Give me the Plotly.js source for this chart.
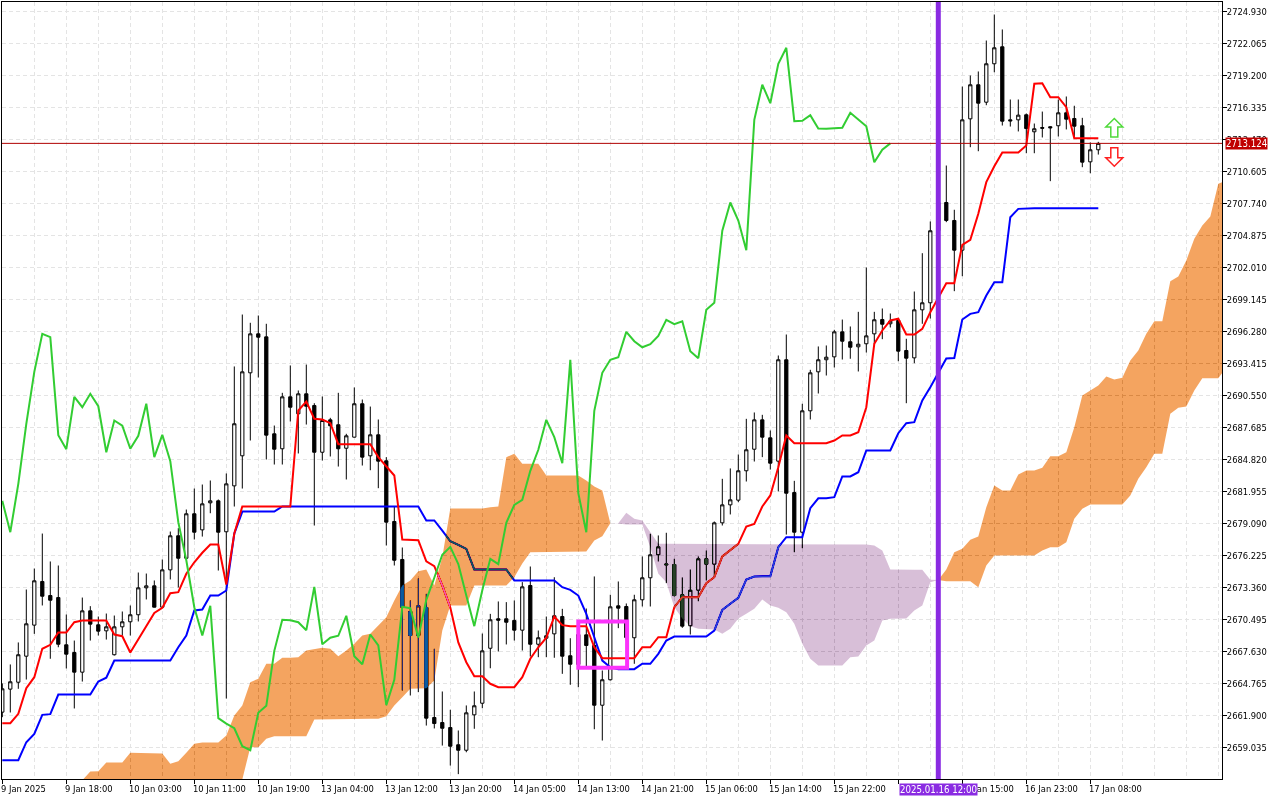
<!DOCTYPE html>
<html>
<head>
<meta charset="utf-8">
<script src="https://cdn.plot.ly/plotly-3.0.1.min.js"></script>
<style>html,body{margin:0;padding:0;background:#fff}#chart{width:1280px;height:800px}</style>
</head>
<body>
<div id="chart"></div>
<script>
const opens=[2662.20,2664.26,2664.88,2667.21,2669.99,2673.90,2672.64,2672.46,2668.23,2667.54,2665.78,2671.27,2670.02,2669.48,2667.34,2669.84,2670.29,2670.92,2673.33,2673.51,2671.60,2674.94,2677.99,2675.98,2679.96,2678.52,2680.94,2681.12,2678.35,2682.46,2685.15,2692.58,2696.07,2695.80,2687.12,2685.78,2690.43,2688.91,2690.70,2689.65,2685.47,2688.37,2687.93,2685.83,2686.82,2689.81,2685.15,2687.03,2684.70,2679.27,2675.87,2671.21,2669.06,2671.57,2661.72,2661.27,2660.82,2659.28,2658.79,2661.96,2663.00,2667.92,2670.56,2670.56,2670.41,2669.54,2673.54,2668.28,2668.82,2669.21,2670.76,2667.25,2666.47,2669.12,2668.17,2662.82,2665.10,2671.72,2671.66,2668.86,2672.26,2674.23,2676.29,2675.37,2675.42,2672.71,2669.93,2673.12,2675.93,2675.45,2679.15,2680.76,2681.18,2683.81,2685.74,2688.37,2686.76,2684.67,2693.75,2681.86,2678.31,2689.18,2692.67,2693.75,2694.01,2696.25,2695.36,2694.91,2695.18,2696.07,2697.35,2696.97,2697.27,2694.58,2693.92,2698.22,2698.85,2705.32,2707.83,2706.22,2703.56,2715.32,2718.37,2716.81,2720.25,2721.77,2715.23,2715.23,2715.68,2714.16,2714.54,2714.61,2714.70,2715.86,2715.35,2714.70,2711.47,2712.55];
const highs=[2664.77,2666.47,2668.44,2673.18,2675.06,2678.19,2675.69,2675.33,2670.94,2668.61,2672.46,2671.69,2670.76,2671.03,2670.85,2671.21,2671.75,2674.70,2674.61,2673.99,2675.87,2678.37,2678.67,2680.34,2682.22,2682.58,2682.94,2681.24,2683.57,2693.15,2697.80,2697.06,2697.71,2696.97,2687.86,2690.79,2693.24,2691.00,2693.32,2689.86,2690.46,2688.55,2690.79,2687.12,2691.27,2690.19,2689.56,2688.40,2685.03,2680.61,2676.94,2672.20,2674.17,2672.79,2667.87,2664.05,2662.41,2660.56,2662.80,2664.05,2669.24,2671.00,2672.11,2672.05,2672.20,2673.84,2675.24,2669.51,2670.76,2674.28,2671.45,2668.82,2669.96,2671.48,2674.35,2665.93,2672.71,2673.90,2671.93,2672.71,2676.14,2678.17,2678.02,2678.26,2675.93,2674.26,2674.97,2676.14,2676.67,2679.27,2683.09,2684.02,2685.27,2688.46,2689.03,2688.82,2687.42,2694.13,2696.01,2682.91,2689.81,2692.85,2694.94,2695.03,2696.43,2697.35,2696.73,2698.04,2702.01,2698.04,2698.34,2697.89,2697.44,2695.63,2699.86,2703.29,2706.13,2708.46,2711.14,2707.18,2718.21,2719.20,2719.56,2722.33,2724.66,2723.32,2717.05,2717.05,2715.80,2714.90,2715.97,2714.66,2717.05,2717.32,2716.49,2715.41,2713.20,2713.26];
const lows=[2661.75,2662.17,2664.29,2665.12,2669.21,2671.75,2666.98,2668.01,2666.11,2662.53,2664.94,2668.61,2669.06,2668.70,2667.27,2669.06,2669.06,2670.32,2672.29,2671.57,2671.54,2674.08,2673.36,2675.93,2677.66,2677.92,2680.01,2674.88,2663.42,2680.61,2682.22,2686.52,2692.16,2684.82,2684.37,2684.37,2688.22,2685.36,2687.95,2678.91,2684.73,2685.09,2684.19,2683.03,2686.79,2684.28,2683.86,2682.25,2677.12,2675.33,2664.14,2663.69,2663.99,2661.00,2660.74,2659.21,2657.42,2656.65,2658.61,2660.71,2662.55,2666.13,2667.63,2668.26,2668.61,2667.72,2667.18,2667.12,2667.12,2667.07,2665.63,2664.65,2664.43,2666.22,2660.67,2659.66,2665.03,2669.72,2668.61,2666.53,2671.66,2671.66,2675.69,2673.75,2672.55,2669.75,2669.15,2672.13,2673.99,2674.28,2678.91,2679.90,2681.00,2682.85,2684.64,2685.03,2683.92,2681.96,2678.10,2676.52,2676.88,2688.40,2690.73,2692.34,2693.06,2693.77,2693.84,2692.70,2694.40,2695.12,2695.59,2696.64,2693.62,2689.86,2693.44,2696.97,2697.44,2704.43,2706.07,2699.89,2701.23,2712.78,2712.42,2716.54,2719.49,2714.72,2714.63,2714.19,2712.24,2712.24,2713.65,2709.74,2713.74,2714.37,2713.59,2710.99,2710.45,2712.12];
const closes=[2664.29,2664.92,2667.34,2670.11,2673.96,2672.58,2672.22,2668.28,2667.39,2665.78,2671.27,2670.08,2669.45,2669.84,2669.84,2670.29,2670.92,2673.33,2673.51,2671.60,2674.94,2677.99,2675.98,2679.96,2678.31,2680.85,2681.12,2678.31,2682.64,2688.02,2692.67,2696.07,2695.77,2687.00,2685.74,2690.43,2689.50,2690.70,2689.59,2685.47,2688.31,2687.84,2685.78,2686.94,2689.81,2685.03,2687.03,2684.67,2679.21,2675.80,2671.60,2669.06,2671.72,2661.66,2661.18,2660.76,2659.15,2658.79,2662.14,2662.77,2667.69,2670.47,2670.43,2670.25,2669.54,2673.42,2668.28,2668.86,2669.04,2670.83,2667.21,2666.49,2669.15,2668.17,2662.82,2665.10,2671.63,2671.51,2668.88,2672.26,2674.23,2676.29,2677.00,2675.46,2672.64,2669.90,2673.12,2675.93,2675.45,2679.15,2680.76,2681.21,2683.81,2685.69,2688.37,2686.82,2684.49,2693.75,2681.80,2678.31,2689.18,2692.58,2693.75,2693.98,2696.25,2695.41,2694.87,2695.14,2695.89,2697.33,2696.93,2697.20,2694.52,2693.89,2698.22,2698.85,2705.30,2707.83,2706.22,2703.56,2715.23,2718.37,2716.72,2720.25,2721.68,2715.11,2715.14,2715.65,2714.45,2714.43,2714.48,2714.52,2715.86,2715.29,2714.66,2711.44,2712.55,2713.124];

const tenkan=[2661.21,2661.21,2662.05,2664.34,2665.33,2667.87,2668.23,2669.33,2669.33,2670.25,2670.41,2670.41,2670.41,2670.41,2669.15,2669.00,2667.54,2668.70,2669.96,2671.09,2671.54,2672.85,2672.94,2674.59,2675.62,2676.47,2677.21,2677.21,2673.63,2678.19,2680.61,2680.61,2680.61,2680.61,2680.61,2680.61,2680.61,2689.21,2690.01,2688.46,2688.40,2688.07,2686.19,2686.19,2686.19,2686.19,2686.19,2685.03,2684.22,2683.39,2677.66,2677.60,2677.60,2675.71,2675.27,2673.54,2671.57,2668.44,2666.67,2665.42,2665.42,2664.74,2664.43,2664.43,2664.43,2665.33,2666.98,2668.01,2668.86,2670.76,2669.99,2669.90,2669.90,2669.90,2668.01,2667.03,2667.03,2667.03,2667.03,2667.03,2668.01,2668.01,2668.91,2668.91,2671.60,2672.49,2672.49,2672.49,2673.75,2674.28,2676.14,2676.74,2677.27,2678.82,2679.06,2680.61,2681.60,2684.13,2686.97,2686.28,2686.28,2686.28,2686.28,2686.28,2686.52,2686.97,2686.97,2687.26,2689.50,2695.18,2696.37,2697.27,2697.42,2696.01,2696.01,2696.52,2698.01,2699.35,2700.60,2700.60,2704.04,2704.49,2706.82,2709.65,2711.08,2712.31,2712.31,2712.31,2712.93,2718.46,2718.51,2717.26,2717.26,2716.36,2713.59,2713.59,2713.59,2713.59];
const kijun=[2657.90,2657.90,2657.90,2659.51,2660.26,2661.96,2662.02,2663.78,2663.78,2663.78,2663.78,2663.78,2664.94,2665.28,2666.82,2666.82,2666.82,2666.82,2666.82,2666.82,2666.82,2666.82,2668.01,2669.06,2671.30,2671.39,2672.64,2672.64,2673.09,2678.19,2680.16,2680.16,2680.16,2680.16,2680.16,2680.61,2680.61,2680.61,2680.61,2680.61,2680.61,2680.61,2680.61,2680.61,2680.61,2680.61,2680.61,2680.61,2680.61,2680.61,2680.61,2680.61,2680.61,2679.36,2679.36,2678.46,2677.50,2677.18,2676.82,2674.97,2674.97,2674.97,2674.97,2674.97,2673.99,2673.99,2673.99,2673.99,2673.99,2673.99,2673.39,2673.15,2672.64,2671.00,2668.91,2666.82,2666.22,2666.05,2666.05,2666.05,2666.53,2666.53,2667.42,2668.61,2668.97,2668.97,2668.97,2668.97,2668.97,2669.51,2671.36,2671.90,2672.44,2674.08,2674.35,2674.37,2674.37,2676.97,2677.86,2677.86,2677.86,2680.46,2681.35,2681.35,2681.45,2683.30,2683.30,2683.68,2685.63,2685.63,2685.63,2685.63,2687.17,2688.07,2688.16,2690.10,2691.29,2692.61,2693.86,2693.91,2697.35,2697.86,2698.01,2699.50,2700.69,2700.69,2706.51,2707.26,2707.32,2707.32,2707.32,2707.32,2707.32,2707.32,2707.32,2707.32,2707.32,2707.32];
const chikou=[2681.12,2678.31,2682.64,2688.02,2692.67,2696.07,2695.77,2687.00,2685.74,2690.43,2689.50,2690.70,2689.59,2685.47,2688.31,2687.84,2685.78,2686.94,2689.81,2685.03,2687.03,2684.67,2679.21,2675.80,2671.60,2669.06,2671.72,2661.66,2661.18,2660.76,2659.15,2658.79,2662.14,2662.77,2667.69,2670.47,2670.43,2670.25,2669.54,2673.42,2668.28,2668.86,2669.04,2670.83,2667.21,2666.49,2669.15,2668.17,2662.82,2665.10,2671.63,2671.51,2668.88,2672.26,2674.23,2676.29,2677.00,2675.46,2672.64,2669.90,2673.12,2675.93,2675.45,2679.15,2680.76,2681.21,2683.81,2685.69,2688.37,2686.82,2684.49,2693.75,2681.80,2678.31,2689.18,2692.58,2693.75,2693.98,2696.25,2695.41,2694.87,2695.14,2695.89,2697.33,2696.93,2697.20,2694.52,2693.89,2698.22,2698.85,2705.30,2707.83,2706.22,2703.56,2715.23,2718.37,2716.72,2720.25,2721.68,2715.11,2715.14,2715.65,2714.45,2714.43,2714.48,2714.52,2715.86,2715.29,2714.66,2711.44,2712.55,2713.124];

// Kumo, three runs: bars 10-76 (bearish), 76-117 (bullish), 117-153 (bearish)
const kumoATop=[2656.10,2656.89,2656.91,2657.69,2657.69,2657.69,2658.56,2658.56,2658.56,2658.56,2658.50,2657.57,2657.81,2658.56,2659.37,2659.48,2659.48,2659.48,2660.11,2661.90,2662.80,2664.88,2665.19,2666.53,2666.53,2667.07,2667.07,2667.12,2667.72,2667.87,2667.96,2667.87,2667.21,2667.72,2668.32,2669.06,2669.21,2669.96,2670.70,2672.20,2673.54,2673.99,2674.82,2674.97,2673.54,2676.07,2680.43,2680.43,2680.43,2680.43,2680.43,2680.55,2680.61,2685.03,2685.33,2684.44,2684.44,2684.44,2683.39,2683.39,2683.39,2683.39,2683.39,2682.94,2682.40,2682.04,2679.12];
const kumoABottom=[2654,2654,2654,2654,2654,2654,2654,2654,2654,2654,2654,2654,2654,2654,2654,2654,2654,2654,2654,2654,2656.17,2659.06,2659.06,2659.81,2660.05,2660.05,2660.05,2660.05,2660.05,2661.54,2661.60,2661.60,2661.60,2661.60,2661.60,2661.60,2661.60,2661.60,2661.84,2662.80,2663.54,2664.29,2664.34,2664.34,2665.03,2669.51,2671.75,2671.75,2671.75,2673.54,2673.54,2673.54,2673.54,2673.54,2674.28,2675.51,2676.52,2676.58,2676.58,2676.58,2676.58,2676.58,2676.58,2676.58,2677.57,2677.95,2679.12];
const kumoBTop=[2679.12,2679.12,2680.05,2679.51,2679.36,2678.31,2677.27,2677.27,2677.27,2677.27,2677.27,2677.27,2677.27,2677.27,2677.27,2677.27,2677.27,2677.27,2677.27,2677.27,2677.27,2677.27,2677.27,2677.27,2677.27,2677.27,2677.27,2677.27,2677.27,2677.27,2677.27,2677.27,2677.21,2677.12,2676.67,2674.97,2674.94,2674.94,2674.94,2674.94,2674.05,2674.03];
const kumoBBottom=[2679.12,2679.09,2679.00,2679.00,2679.00,2676.97,2674.59,2673.84,2671.60,2670.59,2669.90,2669.66,2669.60,2669.60,2669.21,2669.66,2670.59,2671.00,2671.45,2672.29,2671.75,2671.54,2671.15,2670.11,2668.32,2666.98,2666.38,2666.38,2666.38,2666.38,2667.12,2667.18,2668.17,2668.61,2670.41,2670.56,2670.56,2670.59,2671.30,2671.75,2673.84,2674.03];
const kumoCTop=[2674.03,2674.97,2676.52,2676.82,2677.63,2677.92,2680.55,2682.49,2682.04,2682.04,2683.48,2683.84,2683.84,2684.08,2685.11,2685.11,2685.47,2687.71,2690.55,2691.00,2691.45,2692.25,2691.98,2692.13,2693.68,2694.58,2696.07,2697.20,2697.20,2700.78,2701.20,2702.64,2704.58,2705.77,2706.57,2709.50,2709.80];
const kumoCBottom=[2674.03,2673.92,2673.92,2673.92,2673.92,2673.39,2675.33,2676.22,2676.22,2676.22,2676.22,2676.22,2676.22,2676.67,2676.97,2676.97,2677.42,2679.51,2680.40,2680.79,2680.79,2680.79,2680.79,2680.79,2681.60,2683.09,2684.13,2685.33,2685.33,2688.91,2689.45,2689.56,2691.00,2692.10,2692.10,2692.10,2693.06];

const yTicks=[2724.930,2722.065,2719.200,2716.335,2713.470,2710.605,2707.740,2704.875,2702.010,2699.145,2696.280,2693.415,2690.550,2687.685,2684.820,2681.955,2679.090,2676.225,2673.360,2670.495,2667.630,2664.765,2661.900,2659.035];
const xTickBars=[0,8,16,24,32,40,48,56,64,72,80,88,96,104,112,120,128,136];
const xLabelBars=[0,8,16,24,32,40,48,56,64,72,80,88,96,104,120,128,136];
const xTickLabels=["9 Jan 2025","9 Jan 18:00","10 Jan 03:00","10 Jan 11:00","10 Jan 19:00","13 Jan 04:00","13 Jan 12:00","13 Jan 20:00","14 Jan 05:00","14 Jan 13:00","14 Jan 21:00","15 Jan 06:00","15 Jan 14:00","15 Jan 22:00","16 Jan 15:00","16 Jan 23:00","17 Jan 08:00"];
const lastPrice=2713.124, markerBar=117, markerLabel="2025.01.16 12:00";
const boxBars=[72,78.1], boxPrices=[2666.17,2670.32];
const arrowBar=139, arrowUpPrice=2715.35, arrowDownPrice=2711.08;

const XR=[-0.0375,152.4625], YR=[2656.215,2725.78];
const FONT="DejaVu Sans Condensed, DejaVu Sans";
const seq=(a,n)=>Array.from({length:n},(_,k)=>a+k);
const bars=seq(0,closes.length);
const poly=(start,top,bot)=>{
  const xs=seq(start,top.length);
  return {x:xs.concat(xs.slice().reverse()),y:top.concat(bot.slice().reverse())};
};
const kumo=(start,top,bot,col)=>Object.assign(poly(start,top,bot),{
  type:'scatter',mode:'lines',line:{width:0},fill:'toself',fillcolor:col,xaxis:'x2',yaxis:'y2',hoverinfo:'skip'});

const traces=[
 {type:'candlestick',x:bars,open:opens,high:highs,low:lows,close:closes,whiskerwidth:0,
  increasing:{line:{color:'#000',width:1},fillcolor:'#fff'},
  decreasing:{line:{color:'#000',width:1},fillcolor:'#000'},hoverinfo:'skip'},
 {type:'scatter',mode:'lines',x:bars,y:kijun,line:{color:'#0000ff',width:2},hoverinfo:'skip'},
 {type:'scatter',mode:'lines',x:bars,y:tenkan,line:{color:'#ff0000',width:2},hoverinfo:'skip'},
 // fills are the XOR complement of the on-screen colour; the layer is blended with "difference"
 kumo(10,kumoATop,kumoABottom,'#0b5b9f'),
 kumo(76,kumoBTop,kumoBBottom,'#274027'),
 kumo(117,kumoCTop,kumoCBottom,'#0b5b9f'),
 {type:'scatter',mode:'lines',x:seq(0,chikou.length),y:chikou,line:{color:'#32cd32',width:2},xaxis:'x3',yaxis:'y3',hoverinfo:'skip'}
];

const hiddenX={range:XR,overlaying:'x',visible:false,fixedrange:true};
const hiddenY={range:YR,overlaying:'y',visible:false,fixedrange:true};
const gridStyle={gridcolor:'#e4e4e4',griddash:'4px,3px',gridwidth:1};

const annotations=xLabelBars.map((b,k)=>({
  x:b,y:0,xref:'x',yref:'paper',xanchor:'left',yanchor:'top',yshift:-3,xshift:-2,showarrow:false,
  text:xTickLabels[k],font:{family:FONT,size:9.3,color:'#000'},borderpad:0,align:'left'}));
annotations.push({x:markerBar,y:0,xref:'x',yref:'paper',xanchor:'center',yanchor:'top',yshift:-4,showarrow:false,
  text:markerLabel,font:{family:FONT,size:9.6,color:'#fff'},bgcolor:'#8a2be2',borderpad:0});
annotations.push({x:1,y:lastPrice,xref:'paper',yref:'y',xanchor:'left',yanchor:'middle',xshift:3,showarrow:false,
  text:lastPrice.toFixed(3),font:{family:FONT,size:9.6,color:'#fff'},bgcolor:'#c00000',borderpad:0});

const layout={
 width:1280,height:800,margin:{l:2,r:58,t:2,b:21,pad:0},
 paper_bgcolor:'#fff',plot_bgcolor:'#fff',showlegend:false,boxgap:0.42,hovermode:false,dragmode:false,
 xaxis:Object.assign({range:XR,type:'linear',tickmode:'array',tickvals:xTickBars,ticktext:xTickBars.map(()=>''),
   ticks:'outside',ticklen:4,tickcolor:'#000',tickwidth:1,showgrid:true,zeroline:false,
   showline:true,linecolor:'#000',linewidth:1,mirror:true,fixedrange:true,rangeslider:{visible:false},
   minor:Object.assign({tickmode:'linear',tick0:0,dtick:4,ticks:'',showgrid:true},gridStyle)},gridStyle),
 yaxis:Object.assign({range:YR,side:'right',tickmode:'array',tickvals:yTicks,ticktext:yTicks.map(v=>v.toFixed(3)),
   ticks:'outside',ticklen:4,tickcolor:'#000',tickwidth:1,showgrid:true,zeroline:false,ticklabelstandoff:-2,
   showline:true,linecolor:'#000',linewidth:1,mirror:true,fixedrange:true,
   tickfont:{family:FONT,size:9.3,color:'#000'}},gridStyle),
 xaxis2:hiddenX,yaxis2:hiddenY,xaxis3:hiddenX,yaxis3:hiddenY,
 annotations:annotations,
 shapes:[
  {type:'line',xref:'paper',x0:0,x1:1,yref:'y',y0:lastPrice,y1:lastPrice,line:{color:'#b00000',width:1},layer:'above'},
  {type:'line',xref:'x',x0:markerBar,x1:markerBar,yref:'paper',y0:0,y1:1,line:{color:'#8a2be2',width:5},layer:'above'},
  {type:'rect',xref:'x',x0:boxBars[0],x1:boxBars[1],yref:'y',y0:boxPrices[0],y1:boxPrices[1],line:{color:'#fb33fb',width:4},fillcolor:'rgba(0,0,0,0)',layer:'above'},
  {type:'path',xsizemode:'pixel',ysizemode:'pixel',xanchor:arrowBar,yanchor:arrowUpPrice,xref:'x',yref:'y',
   path:'M 0 0 L 8.5 -8.5 L 3.5 -8.5 L 3.5 -18.5 L -3.5 -18.5 L -3.5 -8.5 L -8.5 -8.5 Z',line:{color:'#4fd93a',width:1.5},fillcolor:'#fff',layer:'above'},
  {type:'path',xsizemode:'pixel',ysizemode:'pixel',xanchor:arrowBar,yanchor:arrowDownPrice,xref:'x',yref:'y',
   path:'M 0 0 L 8.5 8.5 L 3.5 8.5 L 3.5 18.5 L -3.5 18.5 L -3.5 8.5 L -8.5 8.5 Z',line:{color:'#ff2020',width:1.5},fillcolor:'#fff',layer:'above'}
 ]
};

const gd=document.getElementById('chart');
const blend=()=>{
  const g=gd.querySelector('.overplot > .x2y2')||gd.querySelector('.x2y2');
  if(g) g.style.mixBlendMode='difference';
};
Plotly.newPlot(gd,traces,layout,{displayModeBar:false,staticPlot:true}).then(()=>{
  blend();
  gd.on('plotly_afterplot',blend);
});
</script>
</body>
</html>
